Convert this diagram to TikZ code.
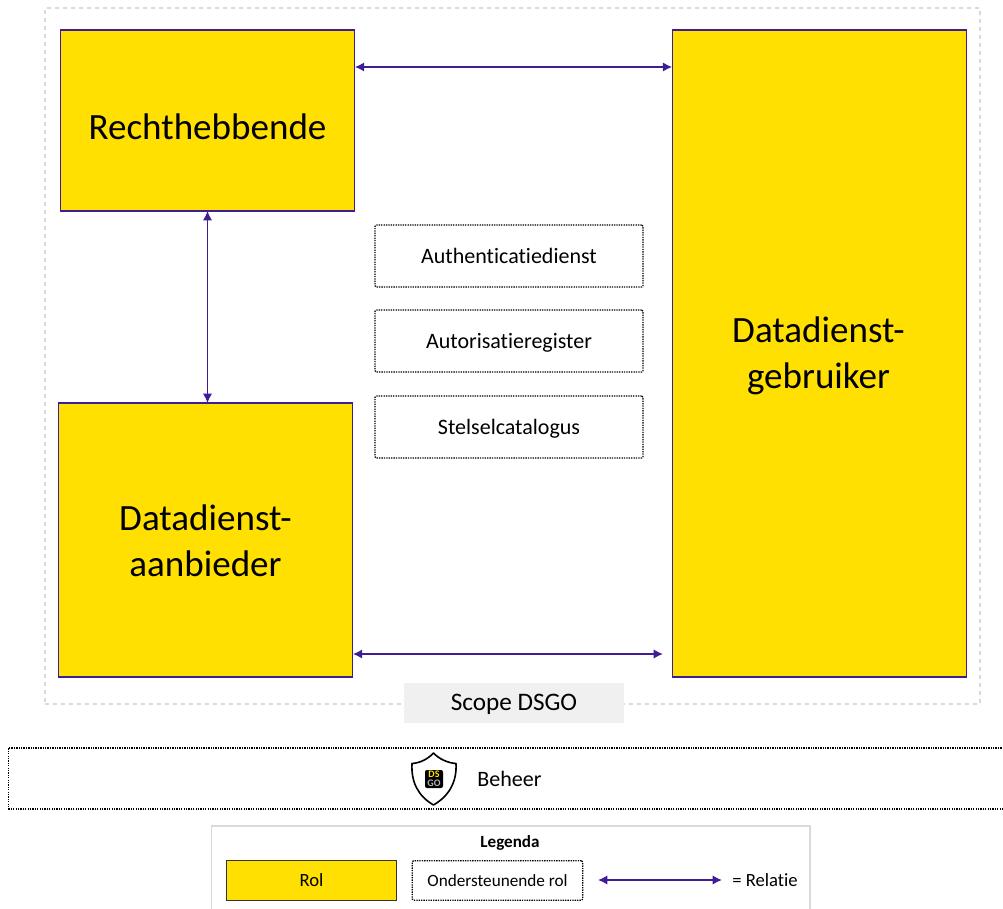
\documentclass[tikz,border=0pt]{standalone}
\usepackage{fontspec}
\setmainfont{Carlito}[Ligatures=CommonOff]
\usetikzlibrary{arrows.meta}
\definecolor{rolgeel}{HTML}{FFE000}
\definecolor{relatiepaars}{HTML}{3F1D96}
\definecolor{scopegrijs}{HTML}{D9D9D9}
\definecolor{labelgrijs}{HTML}{F0F0F0}
\tikzset{
  rol/.style={draw=relatiepaars, fill=rolgeel, line width=0.9pt, inner sep=0pt, outer sep=0pt},
  roltekst/.style={align=center, inner sep=0pt, font=\fontsize{27.8}{34.5}\selectfont},
  stippel/.style={draw=black, dash pattern=on 1pt off 0.8pt, line width=0.9pt},
  steun/.style={stippel, rounded corners=1pt, inner sep=0pt, text height=11pt, text depth=0pt, font=\fontsize{16.5}{20}\selectfont},
  relatie/.style={{Latex[length=7pt,width=7pt]}-{Latex[length=7pt,width=7pt]}, draw=relatiepaars, line width=1.2pt},
  tekst/.style={inner sep=0pt, font=\fontsize{14}{17}\selectfont},
}
\begin{document}
\begin{tikzpicture}[x=0.75pt, y=-0.75pt]
  \useasboundingbox (0,0) rectangle (1003,909);

  % kader scope
  \node[draw=scopegrijs, dashed, line width=0.9pt, minimum width=701.25pt, minimum height=522pt, inner sep=0pt] (scope) at (512.5,356) {};
  \node[fill=labelgrijs, minimum width=165pt, minimum height=30pt, inner sep=0pt] (scopelabel) at (514,703) {};
  \node[tekst, font=\fontsize{18.9}{23}\selectfont] (scopetekst) at (514,704) {Scope DSGO};

  % rollen
  \node[rol, minimum width=221pt, minimum height=135.75pt] (rechthebbende) at (207.5,120.5) {};
  \node[rol, minimum width=221pt, minimum height=205.5pt] (aanbieder) at (205.5,540) {};
  \node[rol, minimum width=221pt, minimum height=485.25pt] (gebruiker) at (819.5,353.5) {};
  \node[roltekst] (rechthebbendetekst) at (207.5,127) {Rechthebbende};
  \node[roltekst] (aanbiedertekst) at (205.5,541) {Datadienst-\\aanbieder};
  \node[roltekst] (gebruikertekst) at (818.5,356) {Datadienst-\\gebruiker};

  % ondersteunende rollen
  \foreach \naam/\y/\tekst in {authenticatie/256/Authenticatiedienst, autorisatie/341/Autorisatieregister, catalogus/427/Stelselcatalogus} {
    \node[steun, minimum width=201pt, minimum height=46.5pt] (\naam) at (509,\y) {\tekst};
  }

  % relaties
  \coordinate (relatieboven) at (0,67);
  \coordinate (relatieonder) at (0,654);
  \coordinate (relatieeind) at (663,654);
  \draw[relatie] (rechthebbende.east |- relatieboven) -- (gebruiker.west |- relatieboven);
  \draw[relatie] (rechthebbende.south) -- (rechthebbende.south |- aanbieder.north);
  \draw[relatie] (aanbieder.east |- relatieonder) -- (relatieeind);

  % beheer
  \node[stippel, minimum width=760pt, minimum height=45.75pt, inner sep=0pt] (beheer) at (515,778.5) {};
  \node[tekst, font=\fontsize{16.5}{20}\selectfont] (beheertekst) at (509.5,779) {Beheer};
  \draw[black, line width=1.2pt, fill=white, line join=round] (433.5,753) .. controls (439,759) and (448,763) .. (456,763.5)
    .. controls (457,782) and (449,796) .. (433.5,805) .. controls (418,796) and (411,782) .. (412,763.5)
    .. controls (420,763) and (428,759) .. (433.5,753) -- cycle;
  \node[fill=black, rounded corners=1.5pt, minimum size=13.5pt, inner sep=0pt, align=center, font=\fontsize{7.5}{6.5}\selectfont\bfseries] (schildlogo) at (434,779) {\textcolor{rolgeel}{DS}\\\textcolor{gray!60}{GO}};

  % legenda
  \node[draw=scopegrijs, line width=1pt, minimum width=449pt, minimum height=90pt, inner sep=0pt] (legenda) at (510.5,886) {};
  \node[tekst, font=\fontsize{12.8}{15}\selectfont\bfseries] (legendatitel) at (510,843) {Legenda};
  \node[draw=black!80, fill=rolgeel, line width=0.9pt, minimum width=128pt, minimum height=29.5pt, inner sep=0pt, font=\fontsize{14}{17}\selectfont] (legendarol) at (311.5,880.5) {Rol};
  \node[steun, minimum width=128pt, minimum height=29.5pt, text height=9pt, font=\fontsize{12.9}{15}\selectfont] (legendasteun) at (497.5,880.5) {Ondersteunende rol};
  \coordinate (legendalinks) at (598,880);
  \node[tekst, anchor=west] (legendarelatie) at (732,880.5) {= Relatie};
  \coordinate (legendarechts) at (722,880);
  \draw[relatie] (legendalinks) -- (legendarechts);
\end{tikzpicture}
\end{document}
